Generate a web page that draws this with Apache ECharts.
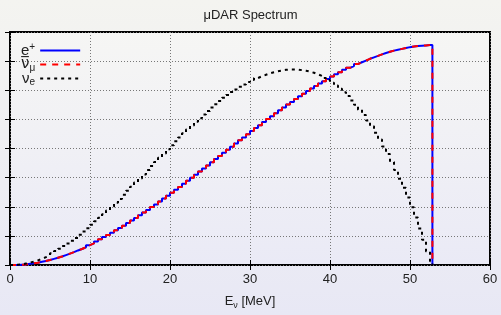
<!DOCTYPE html>
<html>
<head>
<meta charset="utf-8">
<script src="https://cdn.jsdelivr.net/npm/echarts@6/dist/echarts.min.js"></script>
<style>
  html, body { margin: 0; padding: 0; }
  body { background: linear-gradient(#f4f4f0, #e8e8f5); }
  #chart { width: 501px; height: 315px; }
</style>
</head>
<body>
<div id="chart"></div>
<script>
// histogram bins, 0.5 MeV wide, last bin stops at the muon endpoint
var binWidth = 0.5;
var endPoint = 52.8;
var xTicks = [0, 10, 20, 30, 40, 50, 60];

// e+ and anti-nu_mu share the same spectrum
var positron = [
  0.00, 0.00, 0.01, 0.02, 0.04, 0.06, 0.08, 0.11, 0.14, 0.17,
  0.21, 0.25, 0.29, 0.34, 0.39, 0.44, 0.50, 0.55, 0.61, 0.68,
  0.74, 0.81, 0.88, 0.96, 1.03, 1.11, 1.19, 1.27, 1.35, 1.44,
  1.53, 1.61, 1.71, 1.80, 1.89, 1.99, 2.08, 2.18, 2.28, 2.38,
  2.48, 2.58, 2.68, 2.79, 2.89, 3.00, 3.10, 3.21, 3.31, 3.42,
  3.53, 3.64, 3.74, 3.85, 3.96, 4.06, 4.17, 4.28, 4.38, 4.49,
  4.60, 4.70, 4.80, 4.91, 5.01, 5.11, 5.21, 5.31, 5.41, 5.51,
  5.60, 5.70, 5.79, 5.88, 5.97, 6.06, 6.15, 6.23, 6.31, 6.39,
  6.47, 6.55, 6.62, 6.70, 6.77, 6.83, 6.90, 6.96, 7.02, 7.08,
  7.13, 7.18, 7.23, 7.28, 7.32, 7.36, 7.39, 7.42, 7.45, 7.48,
  7.50, 7.52, 7.53, 7.54, 7.55, 7.55
];
var numubar = positron.slice();

var nue = [
  0.00, 0.01, 0.02, 0.05, 0.08, 0.12, 0.16, 0.21, 0.27, 0.33,
  0.40, 0.48, 0.56, 0.65, 0.74, 0.83, 0.93, 1.04, 1.15, 1.26,
  1.38, 1.50, 1.62, 1.74, 1.87, 2.00, 2.14, 2.27, 2.41, 2.55,
  2.69, 2.83, 2.97, 3.11, 3.26, 3.40, 3.54, 3.68, 3.83, 3.97,
  4.11, 4.25, 4.38, 4.52, 4.65, 4.79, 4.92, 5.04, 5.17, 5.29,
  5.41, 5.52, 5.63, 5.74, 5.84, 5.94, 6.03, 6.12, 6.20, 6.28,
  6.35, 6.42, 6.48, 6.53, 6.58, 6.62, 6.65, 6.68, 6.70, 6.71,
  6.71, 6.71, 6.69, 6.67, 6.64, 6.60, 6.55, 6.49, 6.42, 6.35,
  6.26, 6.16, 6.05, 5.93, 5.80, 5.65, 5.50, 5.33, 5.15, 4.96,
  4.76, 4.54, 4.31, 4.07, 3.81, 3.54, 3.26, 2.96, 2.65, 2.32,
  1.98, 1.63, 1.25, 0.87, 0.46, 0.13
];

function histPoints(vals) {
  var pts = vals.map(function (v, i) { return [i * binWidth, v]; });
  pts.push([endPoint, 0]);
  return pts;
}

var font = 'Liberation Sans, Arial, sans-serif';
var rich = {
  b: { fontSize: 15, lineHeight: 14, color: '#222', fontFamily: font },
  bar: { fontSize: 15, lineHeight: 14, color: '#222', fontFamily: 'DejaVu Sans' },
  sup: { fontSize: 10, lineHeight: 8, color: '#222', fontFamily: font, padding: [0, 0, 7, 0] },
  sub: { fontSize: 10, lineHeight: 8, color: '#222', fontFamily: font, padding: [7, 0, 0, 0] },
  nb: { fontSize: 13, color: '#222', fontFamily: font },
  nsub: { fontSize: 9, color: '#222', fontFamily: font, padding: [8, 0, 0, 0] }
};
var legendLabels = {
  'e+': '{b|e}{sup|+}',
  'numubar': '{bar|\u03bd\u0305}{sub|\u03bc}',
  'nue': '{b|\u03bd}{sub|e}'
};

var chart = echarts.init(document.getElementById('chart'), null, { renderer: 'canvas' });

var option = {
  animation: false,
  backgroundColor: 'transparent',
  title: {
    text: '\u03bcDAR Spectrum',
    left: 'center',
    top: 4,
    textStyle: { fontSize: 13, fontWeight: 'normal', color: '#222', fontFamily: font }
  },
  legend: {
    orient: 'vertical',
    left: 16,
    top: 37,
    align: 'right',
    itemWidth: 40,
    itemHeight: 12,
    itemGap: -3,
    data: ['e+', 'numubar', 'nue'],
    formatter: function (name) { return legendLabels[name]; },
    itemStyle: { opacity: 0 },
    textStyle: { rich: rich }
  },
  grid: {
    left: 10, right: 11, top: 32, bottom: 41,
    show: true,
    borderColor: '#000',
    borderWidth: 2,
    backgroundColor: {
      type: 'linear', x: 0, y: 0, x2: 0, y2: 1,
      colorStops: [{ offset: 0, color: '#f6f6f4' }, { offset: 1, color: '#eaeaf6' }]
    }
  },
  xAxis: [{
    type: 'value',
    min: xTicks[0],
    max: xTicks[xTicks.length - 1],
    interval: 10,
    axisLine: { show: false },
    axisTick: { inside: true, length: 5, lineStyle: { color: '#000' } },
    axisLabel: { color: '#222', fontSize: 13, fontFamily: font, margin: 8 },
    splitLine: { lineStyle: { color: '#777', type: [1, 2], width: 1 } },
    name: '{nb|E}{nsub|\u03bd}{nb| [MeV]}',
    nameLocation: 'middle',
    nameGap: 28,
    nameTextStyle: { rich: rich }
  }, {
    type: 'value', position: 'top',
    min: xTicks[0], max: xTicks[xTicks.length - 1], interval: 10,
    axisLine: { show: false },
    axisTick: { inside: true, length: 5, lineStyle: { color: '#000' } },
    axisLabel: { show: false },
    splitLine: { show: false }
  }],
  yAxis: [{
    type: 'value', min: 0, max: 8, interval: 1,
    axisLine: { show: false },
    axisTick: { show: true, inside: true, length: 5, lineStyle: { color: '#000' } },
    axisLabel: { show: false },
    splitLine: { lineStyle: { color: '#777', type: [1, 2], width: 1 } }
  }, {
    type: 'value', position: 'right', min: 0, max: 8, interval: 1,
    axisLine: { show: false },
    axisTick: { show: true, inside: true, length: 5, lineStyle: { color: '#000' } },
    axisLabel: { show: false },
    splitLine: { show: false }
  }],
  series: [{
    name: 'e+',
    type: 'line',
    step: 'end',
    symbol: 'none',
    data: histPoints(positron),
    lineStyle: { color: '#0000ff', width: 2 },
    itemStyle: { color: '#0000ff' }
  }, {
    name: 'numubar',
    type: 'line',
    step: 'end',
    symbol: 'none',
    data: histPoints(numubar),
    lineStyle: { color: '#ff0000', width: 2, type: [6, 6] },
    itemStyle: { color: '#ff0000' }
  }, {
    name: 'nue',
    type: 'line',
    step: 'end',
    symbol: 'none',
    data: histPoints(nue),
    lineStyle: { color: '#000', width: 2, type: [3, 4] },
    itemStyle: { color: '#000' }
  }]
};

chart.setOption(option);
</script>
</body>
</html>
